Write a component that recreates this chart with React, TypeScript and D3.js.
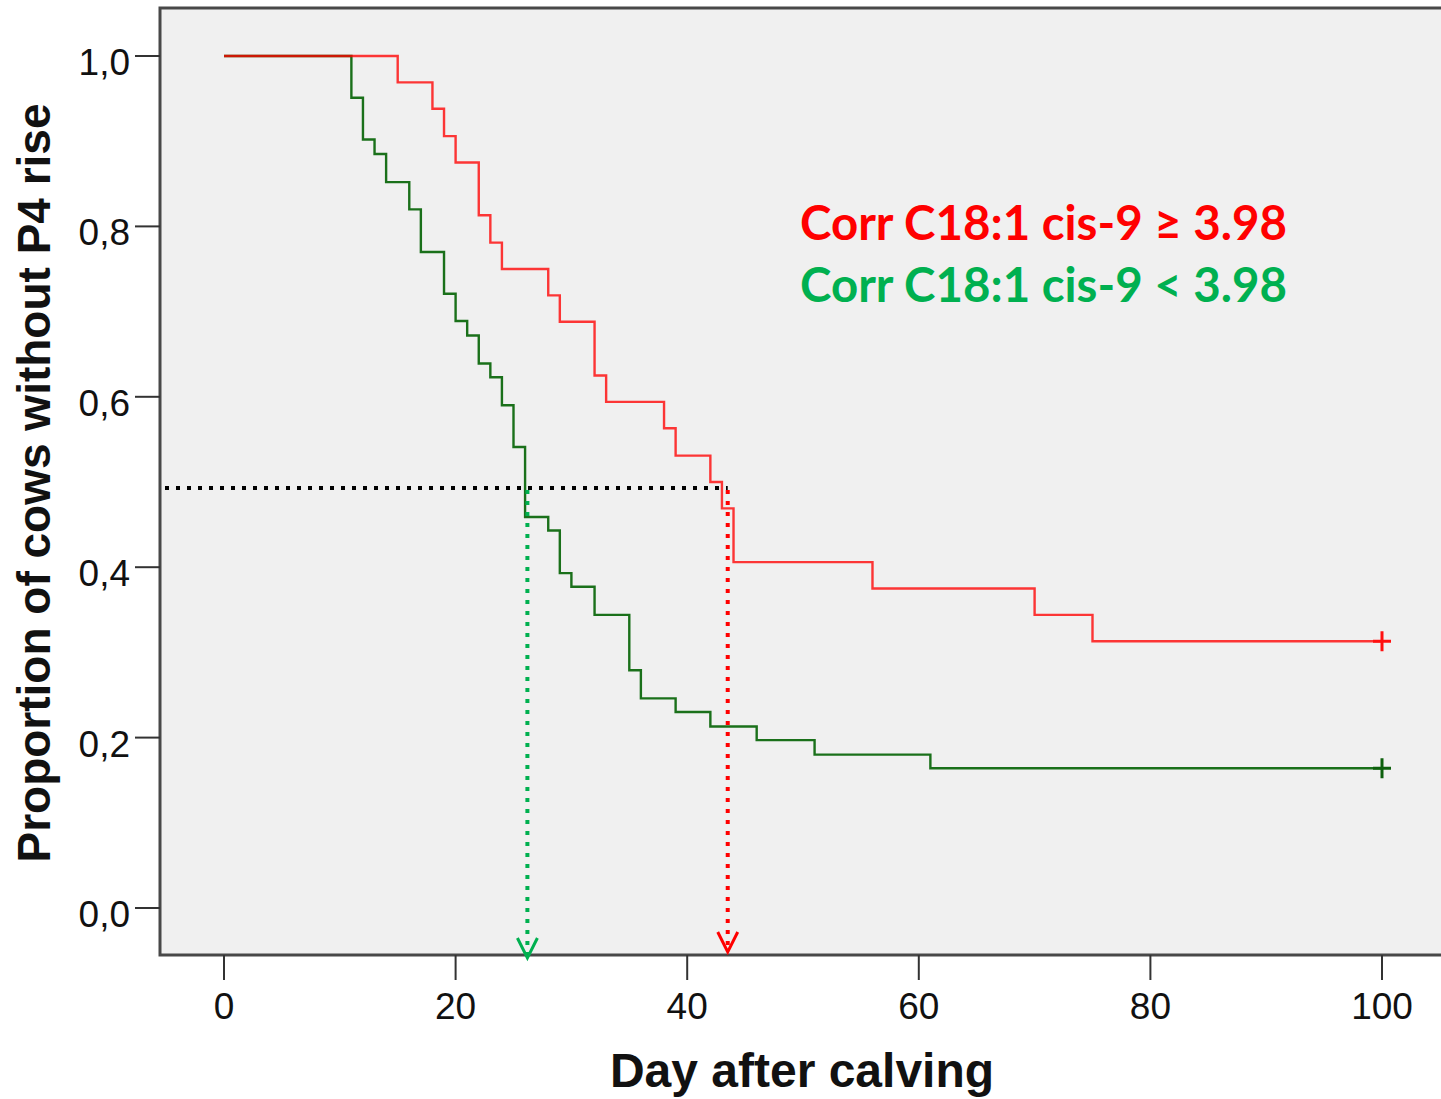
import React, { useEffect, useRef } from "react";
import * as d3 from "d3";

// Kaplan-Meier steps (day, proportion without P4 rise)
const highDays = [0, 15, 18, 19, 20, 22, 23, 24, 28, 29, 32, 33, 38, 39, 42, 43, 44, 56, 70, 75, 100];
const highSurv = [1, 0.969, 0.938, 0.906, 0.875, 0.813, 0.781, 0.75, 0.719, 0.688, 0.625, 0.594, 0.563, 0.531, 0.5, 0.469, 0.406, 0.375, 0.344, 0.313, 0.313];

const lowDays = [0, 11, 12, 13, 14, 16, 17, 19, 20, 21, 22, 23, 24, 25, 26, 28, 29, 30, 32, 35, 36, 39, 42, 46, 51, 61, 100];
const lowSurv = [1, 0.951, 0.902, 0.885, 0.852, 0.82, 0.77, 0.721, 0.689, 0.672, 0.639, 0.623, 0.59, 0.541, 0.459, 0.443, 0.393, 0.377, 0.344, 0.279, 0.246, 0.23, 0.213, 0.197, 0.18, 0.164, 0.164];

// median markers
const medianLevel = 0.493;
const medianLowDay = 26.2;
const medianHighDay = 43.5;

const xTicks = [0, 20, 40, 60, 80, 100];
const yTicks = [0, 0.2, 0.4, 0.6, 0.8, 1.0];
const yTickLabels = ["0,0", "0,2", "0,4", "0,6", "0,8", "1,0"];

const legendLabels = ["Corr C18:1 cis-9 \u2265 3.98", "Corr C18:1 cis-9 < 3.98"];

const W = 1441;
const H = 1099;

const App = () => {
  const svgRef = useRef(null);

  useEffect(() => {
    const svg = d3.select(svgRef.current);
    svg.selectAll("*").remove();

    // ---------------------- scale
    const x = d3.scaleLinear().domain([0, 100]).range([224, 1382]);
    const y = d3.scaleLinear().domain([0, 1]).range([908, 56]);

    const frame = { left: 160, top: 8, bottom: 955 };

    // ---------------------- plot area
    svg
      .append("rect")
      .attr("x", frame.left)
      .attr("y", frame.top)
      .attr("width", W - frame.left + 20)
      .attr("height", frame.bottom - frame.top)
      .attr("fill", "#f0f0f0")
      .attr("stroke", "#484848")
      .attr("stroke-width", 3);

    // ---------------------- axes
    const font = "'Liberation Sans', Arial, sans-serif";

    const yAxis = svg.append("g");
    yAxis
      .selectAll("line")
      .data(yTicks)
      .join("line")
      .attr("x1", 135)
      .attr("x2", frame.left)
      .attr("y1", d => y(d))
      .attr("y2", d => y(d))
      .attr("stroke", "#333")
      .attr("stroke-width", 2);
    yAxis
      .selectAll("text")
      .data(yTicks)
      .join("text")
      .attr("x", 130)
      .attr("y", d => y(d) + 19)
      .attr("text-anchor", "end")
      .attr("font-family", font)
      .attr("font-size", 37)
      .attr("fill", "#111")
      .text((d, i) => yTickLabels[i]);

    const xAxis = svg.append("g");
    xAxis
      .selectAll("line")
      .data(xTicks)
      .join("line")
      .attr("x1", d => x(d))
      .attr("x2", d => x(d))
      .attr("y1", frame.bottom)
      .attr("y2", 980)
      .attr("stroke", "#333")
      .attr("stroke-width", 2);
    xAxis
      .selectAll("text")
      .data(xTicks)
      .join("text")
      .attr("x", d => x(d))
      .attr("y", 1019)
      .attr("text-anchor", "middle")
      .attr("font-family", font)
      .attr("font-size", 37)
      .attr("fill", "#111")
      .text(d => d);

    svg
      .append("text")
      .attr("x", 802)
      .attr("y", 1087)
      .attr("text-anchor", "middle")
      .attr("font-family", font)
      .attr("font-weight", "bold")
      .attr("font-size", 48)
      .attr("fill", "#111")
      .text("Day after calving");

    svg
      .append("text")
      .attr("transform", "translate(50, 483) rotate(-90)")
      .attr("text-anchor", "middle")
      .attr("font-family", font)
      .attr("font-weight", "bold")
      .attr("font-size", 46)
      .attr("fill", "#111")
      .text("Proportion of cows without P4 rise");

    // ---------------------- survival curves
    const line = d3
      .line()
      .x(d => x(d[0]))
      .y(d => y(d[1]))
      .curve(d3.curveStepAfter);

    const series = [
      { days: lowDays, surv: lowSurv, color: "#1a701a", mark: "#0d600d", opacity: 1 },
      { days: highDays, surv: highSurv, color: "#ff0000", mark: "#ff1010", opacity: 0.78 }
    ];

    series.forEach(s => {
      const pts = s.days.map((d, i) => [d, s.surv[i]]);
      svg
        .append("path")
        .attr("d", line(pts))
        .attr("fill", "none")
        .attr("stroke", s.color)
        .attr("stroke-opacity", s.opacity)
        .attr("stroke-width", 2.4);

      // censor mark at the end of follow-up
      const last = pts[pts.length - 1];
      const cx = x(last[0]);
      const cy = y(last[1]);
      svg
        .append("path")
        .attr("d", `M${cx - 9},${cy}H${cx + 9}M${cx},${cy - 10}V${cy + 10}`)
        .attr("stroke", s.mark)
        .attr("stroke-width", 3);
    });

    // ---------------------- median guides
    const dotted = "4 7";
    const yMed = y(medianLevel);
    svg
      .append("line")
      .attr("x1", frame.left + 5)
      .attr("x2", x(medianHighDay))
      .attr("y1", yMed)
      .attr("y2", yMed)
      .attr("stroke", "#000")
      .attr("stroke-width", 4)
      .attr("stroke-dasharray", dotted);

    const guides = [
      { day: medianLowDay, color: "#00b050", tip: frame.bottom + 3 },
      { day: medianHighDay, color: "#ff0000", tip: frame.bottom - 3 }
    ];
    guides.forEach(g => {
      const gx = x(g.day);
      svg
        .append("line")
        .attr("x1", gx)
        .attr("x2", gx)
        .attr("y1", yMed + 2)
        .attr("y2", g.tip - 4)
        .attr("stroke", g.color)
        .attr("stroke-width", 4)
        .attr("stroke-dasharray", dotted);
      svg
        .append("path")
        .attr("d", `M${gx - 10},${g.tip - 20}L${gx},${g.tip}L${gx + 10},${g.tip - 20}`)
        .attr("fill", "none")
        .attr("stroke", g.color)
        .attr("stroke-width", 3);
    });

    // ---------------------- legend
    const legendColors = ["#ff0000", "#00b050"];
    svg
      .selectAll(".legend")
      .data(legendLabels)
      .join("text")
      .attr("class", "legend")
      .attr("x", 800)
      .attr("y", (d, i) => 240 + i * 62)
      .attr("font-family", "Lato, 'Open Sans', sans-serif")
      .attr("font-weight", "bold")
      .attr("font-size", 48)
      .attr("textLength", 487)
      .attr("lengthAdjust", "spacingAndGlyphs")
      .attr("fill", (d, i) => legendColors[i])
      .text(d => d);
  }, []);

  return (
    <div style={{ position: "absolute", left: 0, top: 0 }}>
      <svg ref={svgRef} width={W} height={H} style={{ display: "block", background: "#fff" }} />
    </div>
  );
};

export default App;
